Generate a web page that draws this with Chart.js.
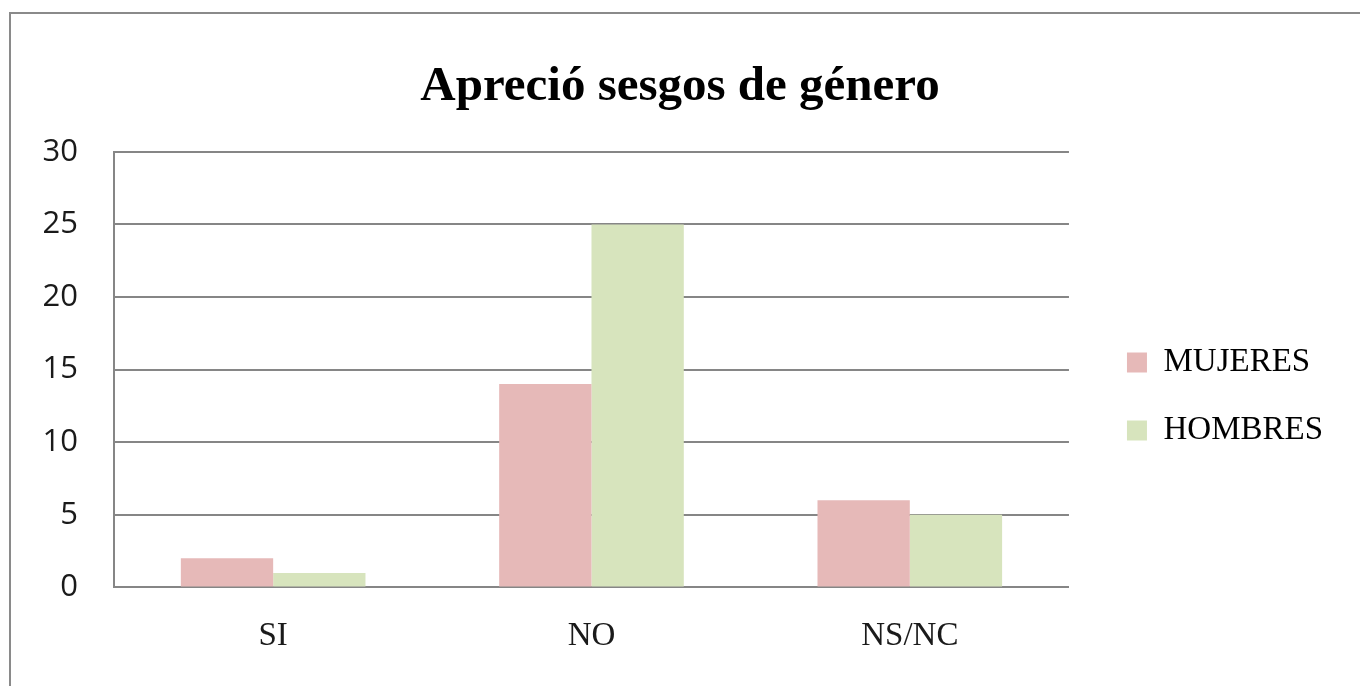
<!DOCTYPE html>
<html>
<head>
<meta charset="utf-8">
<script src="https://cdn.jsdelivr.net/npm/chart.js@4"></script>
<style>
  html, body { margin: 0; padding: 0; background: #fff; }
  #frame { position: absolute; left: 9px; top: 12px; width: 1400px; height: 700px; border: 2px solid #8a8a8a; }
  #chart { position: absolute; left: 0; top: 0; }
</style>
</head>
<body>
<div id="frame"></div>
<canvas id="chart" width="1360" height="686"></canvas>
<script>
const categories = ["SI", "NO", "NS/NC"];
const mujeres = [2, 14, 6];
const hombres = [1, 25, 5];
const yTicks = [0, 5, 10, 15, 20, 25, 30];

const gridColor = "#868686";

function draw() {
  new Chart(document.getElementById("chart"), {
    type: "bar",
    data: {
      labels: categories,
      datasets: [
        { label: "MUJERES", data: mujeres, backgroundColor: "#e6b9b8" },
        { label: "HOMBRES", data: hombres, backgroundColor: "#d7e4bd" },
      ],
    },
    options: {
      responsive: false,
      animation: false,
      categoryPercentage: 0.58,
      barPercentage: 1.0,
      layout: { padding: { left: 27, right: 27, top: 0, bottom: 1 } },
      plugins: {
        title: {
          display: true,
          text: "Apreció sesgos de género",
          color: "#000",
          font: { family: "Liberation Serif", size: 49, weight: "bold" },
          padding: { top: 58, bottom: 35 },
        },
        legend: {
          position: "right",
          maxWidth: 320,
          // blank title, only used to push the entries down a little
          title: { display: true, text: "\u00a0", font: { size: 10 }, padding: { top: 48, bottom: 48 } },
          labels: {
            boxWidth: 20,
            boxHeight: 20,
            padding: 35,
            color: "#000",
            font: { family: "Liberation Serif", size: 33 },
          },
        },
        tooltip: { enabled: false },
      },
      scales: {
        x: {
          grid: { display: false, drawTicks: false },
          border: { display: true, color: gridColor, width: 2 },
          ticks: {
            padding: 29,
            color: "#1a1a1a",
            font: { family: "Liberation Serif", size: 33 },
          },
        },
        y: {
          min: 0,
          max: 30,
          afterBuildTicks: (s) => { s.ticks = yTicks.map((v) => ({ value: v })); },
          afterFit: (s) => { s.width = 87; },
          grid: { color: gridColor, lineWidth: 2, drawTicks: false },
          border: { display: true, color: gridColor, width: 2 },
          ticks: {
            padding: 36,
            color: "#1a1a1a",
            font: { family: "Open Sans", size: 31 },
          },
        },
        gap: {
          position: "right",
          grid: { display: false, drawTicks: false },
          border: { display: false },
          ticks: { display: false },
          afterFit: (s) => { s.width = 23; },
        },
      },
    },
  });
}

Promise.all([
  document.fonts.load("bold 49px 'Liberation Serif'"),
  document.fonts.load("33px 'Liberation Serif'"),
  document.fonts.load("31px 'Open Sans'"),
]).then(draw, draw);
</script>
</body>
</html>
